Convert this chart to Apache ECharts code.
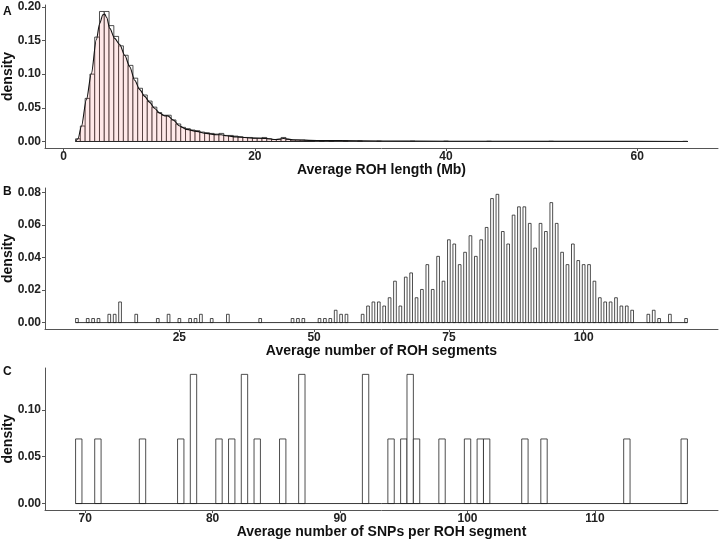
<!DOCTYPE html>
<html><head><meta charset="utf-8">
<script src="https://cdn.jsdelivr.net/npm/echarts@6/dist/echarts.min.js"></script>
<style>html,body{margin:0;padding:0;background:#fff}#c{width:722px;height:546px}</style>
</head><body><div id="c"></div>
<script>
const BIN_WIDTH = 0.5;

// Panel A: Average ROH length (Mb)
const A_binCenters = [1.5,2,2.5,3,3.5,4,4.5,5,5.5,6,6.5,7,7.5,8,8.5,9,9.5,10,10.5,11,11.5,12,12.5,13,13.5,14,14.5,15,15.5,16,16.5,17,17.5,18,18.5,19,19.5,20,20.5,21,21.5,22,22.5,23,23.5,24,24.5,25,25.5,26,27,28,29.5,31,33,36.5,40,44.5,51,65];
const A_binDensity = [0.004,0.023,0.064,0.100,0.155,0.193,0.193,0.172,0.156,0.142,0.128,0.113,0.094,0.079,0.069,0.060,0.051,0.043,0.039,0.039,0.032,0.026,0.021,0.019,0.017,0.016,0.014,0.013,0.012,0.011,0.012,0.009,0.009,0.008,0.007,0.006,0.006,0.005,0.005,0.006,0.004,0.003,0.003,0.006,0.003,0.002,0.002,0.002,0.001,0.001,0.001,0.001,0.0008,0.0008,0.0005,0.0005,0.0005,0.0003,0.0003,0.0003];
const A_curveX = [1.25,1.5,1.85,2.38,2.9,3.42,3.77,4.1,4.3,4.5,4.82,5.34,5.86,6.39,6.91,7.43,7.96,8.48,9.0,9.53,10.05,10.58,10.9,11.45,12.15,12.85,13.9,14.9,16.0,16.5,17.0,18.1,19.8,21.2,22.2,23.0,24.0,26.5,31,36,45,55,65.3];
const A_curveY = [0,0.004,0.022,0.062,0.101,0.151,0.175,0.188,0.189,0.184,0.168,0.153,0.144,0.128,0.111,0.091,0.077,0.067,0.058,0.049,0.042,0.038,0.038,0.032,0.023,0.018,0.015,0.012,0.010,0.010,0.0085,0.0068,0.005,0.0045,0.003,0.0045,0.0025,0.0015,0.001,0.0005,0.0003,0.0002,0];
const A_range = [1.25, 65.25];
const A_xTicks = [0,20,40,60];
const A_yTicks = [0,0.05,0.10,0.15,0.20];

// Panel B: Average number of ROH segments
const B_binCenters = [6,8,9,10,12,13,14,17,21,23,25,27,28,29,31,34,40,46,47,48,51,52,53,54,55,56,59,60,61,62,63,64,65,66,67,68,69,70,71,72,73,74,75,76,77,78,79,80,81,82,83,84,85,86,87,88,89,90,91,92,93,94,95,96,97,98,99,100,101,102,103,104,105,106,107,108,109,112,113,114,116,119];
const B_binDensity = [0.0025,0.0025,0.0025,0.0025,0.0051,0.0051,0.0127,0.0051,0.0025,0.0051,0.0025,0.0025,0.0025,0.0051,0.0025,0.0051,0.0025,0.0025,0.0025,0.0025,0.0025,0.0025,0.0025,0.0076,0.0051,0.0051,0.0051,0.0102,0.0127,0.0127,0.0102,0.0153,0.0255,0.0102,0.0280,0.0306,0.0153,0.0204,0.0357,0.0204,0.0408,0.0255,0.0510,0.0484,0.0357,0.0433,0.0535,0.0408,0.0510,0.0586,0.0764,0.0790,0.0561,0.0484,0.0662,0.0713,0.0713,0.0611,0.0459,0.0611,0.0561,0.0739,0.0611,0.0433,0.0357,0.0484,0.0382,0.0357,0.0357,0.0255,0.0153,0.0127,0.0127,0.0153,0.0102,0.0102,0.0076,0.0051,0.0076,0.0025,0.0051,0.0025];
const B_range = [5.75, 119.25];
const B_xTicks = [25,50,75,100];
const B_yTicks = [0,0.02,0.04,0.06,0.08];

// Panel C: Average number of SNPs per ROH segment
const C_binCenters = [69.5,71,74.5,77.5,78.5,80.5,81.5,82.5,83.5,85.5,87,92,94,95,95.5,96,98,100,101,101.5,104.5,106,112.5,117];
const C_binDensity = [0.069,0.069,0.069,0.069,0.138,0.069,0.069,0.138,0.069,0.069,0.138,0.138,0.069,0.069,0.138,0.069,0.069,0.069,0.069,0.069,0.069,0.069,0.069,0.069];
const C_range = [69.25, 117.25];
const C_xTicks = [70,80,90,100,110];
const C_yTicks = [0,0.05,0.10];

const FONT = "'Liberation Sans', Arial, Helvetica, sans-serif";
const AXIS_COLOR = '#555';

function xAxis(gi, min, max, ticks, name) {
  return {
    type: 'value', gridIndex: gi, min, max, name, nameLocation: 'middle', nameGap: 15, nameMoveOverlap: false,
    nameTextStyle: {fontFamily: FONT, fontWeight: 'bold', fontSize: 14, color: '#111'},
    axisLine: {show: true, onZero: false, lineStyle: {color: AXIS_COLOR, width: 1}},
    axisTick: {show: true, length: 3, customValues: ticks, lineStyle: {color: AXIS_COLOR}},
    axisLabel: {customValues: ticks, margin: 3, fontFamily: FONT, fontWeight: 'bold', fontSize: 12, color: '#222'},
    splitLine: {show: false}
  };
}
function yAxis(gi, min, max, ticks) {
  return {
    type: 'value', gridIndex: gi, min, max, name: 'density', nameLocation: 'middle', nameGap: 30, nameMoveOverlap: false,
    nameTextStyle: {fontFamily: FONT, fontWeight: 'bold', fontSize: 14, color: '#111'},
    axisLine: {show: true, onZero: false, lineStyle: {color: AXIS_COLOR, width: 1}},
    axisTick: {show: true, length: 3, customValues: ticks, lineStyle: {color: AXIS_COLOR}},
    axisLabel: {customValues: ticks, margin: 4, fontFamily: FONT, fontWeight: 'bold', fontSize: 12, color: '#222',
      formatter: v => v.toFixed(2)},
    splitLine: {show: false}
  };
}
function histSeries(idx, centers, dens) {
  return {
    type: 'custom', xAxisIndex: idx, yAxisIndex: idx, z: 2, silent: true,
    data: centers.map((c, i) => [c, dens[i]]),
    renderItem: (params, api) => {
      const x = api.value(0), y = api.value(1);
      const p0 = api.coord([x - BIN_WIDTH / 2, y]);
      const p1 = api.coord([x + BIN_WIDTH / 2, 0]);
      return {type: 'rect', shape: {x: p0[0], y: p0[1], width: p1[0] - p0[0], height: p1[1] - p0[1]},
        style: {fill: '#fff', stroke: '#222', lineWidth: 0.8}};
    }
  };
}
function baseline(idx, range) {
  return {type: 'line', xAxisIndex: idx, yAxisIndex: idx, z: 4, silent: true, symbol: 'none',
    data: [[range[0], 0], [range[1], 0]], lineStyle: {color: '#222', width: 0.9}};
}

const chart = echarts.init(document.getElementById('c'), null, {renderer: 'canvas'});
chart.setOption({
  animation: false,
  backgroundColor: '#fff',
  grid: [
    {left: 45, right: 4, top: 5, height: 143, containLabel: false, outerBoundsMode: 'none'},
    {left: 45, right: 4, top: 188, height: 141, containLabel: false, outerBoundsMode: 'none'},
    {left: 45, right: 4, top: 368, height: 142, containLabel: false, outerBoundsMode: 'none'}
  ],
  xAxis: [
    xAxis(0, -1.95, 68.45, A_xTicks, 'Average ROH length (Mb)'),
    xAxis(1, 0.075, 124.925, B_xTicks, 'Average number of ROH segments'),
    xAxis(2, 66.85, 119.65, C_xTicks, 'Average number of SNPs per ROH segment')
  ],
  yAxis: [
    yAxis(0, -0.00965, 0.2026, A_yTicks),
    yAxis(1, -0.00395, 0.0829, B_yTicks),
    yAxis(2, -0.0069, 0.1448, C_yTicks)
  ],
  graphic: [
    {type: 'text', left: 3, top: 6, style: {text: 'A', font: 'bold 12px ' + FONT, fill: '#111'}},
    {type: 'text', left: 3, top: 186, style: {text: 'B', font: 'bold 12px ' + FONT, fill: '#111'}},
    {type: 'text', left: 3, top: 366, style: {text: 'C', font: 'bold 12px ' + FONT, fill: '#111'}}
  ],
  series: [
    histSeries(0, A_binCenters, A_binDensity),
    baseline(0, A_range),
    {
      type: 'line', xAxisIndex: 0, yAxisIndex: 0, z: 3, silent: true, symbol: 'none',
      smooth: 0.3, smoothMonotone: 'x',
      data: A_curveX.map((x, i) => [x, A_curveY[i]]),
      lineStyle: {color: '#111', width: 1.1},
      areaStyle: {color: 'rgba(255,102,102,0.2)'}
    },
    histSeries(1, B_binCenters, B_binDensity),
    baseline(1, B_range),
    histSeries(2, C_binCenters, C_binDensity),
    baseline(2, C_range)
  ]
});
</script></body></html>
